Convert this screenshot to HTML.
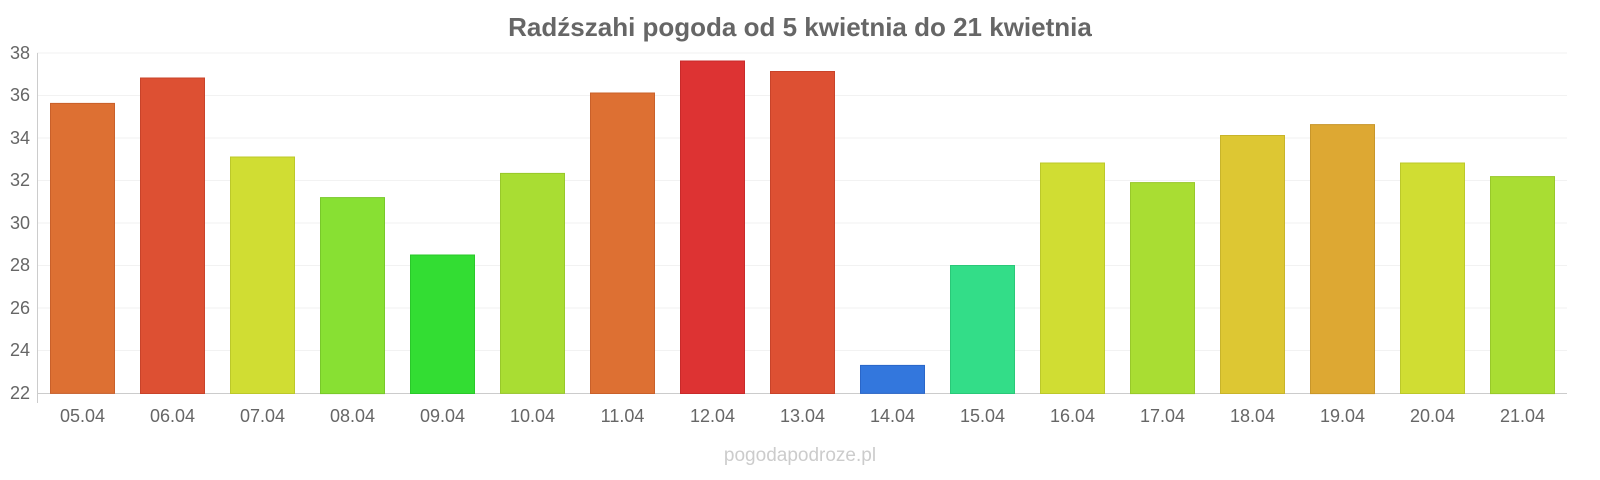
<!DOCTYPE html>
<html><head><meta charset="utf-8"><style>
html,body{margin:0;padding:0;background:#fff;overflow:hidden;width:1600px;height:480px;}
svg{display:block;}
svg text{font-family:"Liberation Sans",sans-serif;}
</style></head><body>
<svg width="1600" height="480" xmlns="http://www.w3.org/2000/svg">
<rect width="1600" height="480" fill="#fff"/>
<text x="800" y="36" text-anchor="middle" font-size="26" font-weight="bold" fill="#666">Radźszahi pogoda od 5 kwietnia do 21 kwietnia</text>
<g stroke="#f2f2f2" stroke-width="1">
<line x1="37" x2="1567" y1="53" y2="53"/><line x1="37" x2="1567" y1="95.5" y2="95.5"/>
<line x1="37" x2="1567" y1="138" y2="138"/><line x1="37" x2="1567" y1="180.5" y2="180.5"/>
<line x1="37" x2="1567" y1="223" y2="223"/><line x1="37" x2="1567" y1="265.5" y2="265.5"/>
<line x1="37" x2="1567" y1="308" y2="308"/><line x1="37" x2="1567" y1="350.5" y2="350.5"/>
</g>
<line x1="37.5" x2="37.5" y1="53" y2="403" stroke="#ccc"/>
<line x1="37" x2="1567" y1="393.5" y2="393.5" stroke="#ccc"/>
<g font-size="18" fill="#666" text-anchor="end">
<text x="30" y="59">38</text><text x="30" y="101">36</text><text x="30" y="144">34</text>
<text x="30" y="186">32</text><text x="30" y="229">30</text><text x="30" y="271">28</text>
<text x="30" y="314">26</text><text x="30" y="356">24</text><text x="30" y="399">22</text>
</g>
<g stroke-width="1">
<rect x="50.5" y="103.4" width="64" height="290" fill="#dd7033" stroke="#c9602a"/>
<rect x="140.5" y="78" width="64" height="315.5" fill="#dd5033" stroke="#c8432a"/>
<rect x="230.5" y="157" width="64" height="236.5" fill="#d0dd33" stroke="#bcc82a"/>
<rect x="320.5" y="197.6" width="64" height="196" fill="#88e033" stroke="#78c82a"/>
<rect x="410.5" y="255" width="64" height="138.5" fill="#33dd33" stroke="#2ac82a"/>
<rect x="500.5" y="173.4" width="64" height="220" fill="#a9dd33" stroke="#98c82a"/>
<rect x="590.5" y="93" width="64" height="300.5" fill="#dd7033" stroke="#c9602a"/>
<rect x="680.5" y="61" width="64" height="332.5" fill="#dd3333" stroke="#c82a2a"/>
<rect x="770.5" y="71.5" width="64" height="322" fill="#dd5033" stroke="#c8432a"/>
<rect x="860.5" y="365.4" width="64" height="28" fill="#3377dd" stroke="#2a66c8"/>
<rect x="950.5" y="265.5" width="64" height="128" fill="#33dd88" stroke="#2ac878"/>
<rect x="1040.5" y="163" width="64" height="230.5" fill="#d0dd33" stroke="#bcc82a"/>
<rect x="1130.5" y="182.6" width="64" height="211" fill="#a9dd33" stroke="#98c82a"/>
<rect x="1220.5" y="135.5" width="64" height="258" fill="#ddc733" stroke="#c8b42a"/>
<rect x="1310.5" y="124.6" width="64" height="269" fill="#dda833" stroke="#c8962a"/>
<rect x="1400.5" y="163" width="64" height="230.5" fill="#d0dd33" stroke="#bcc82a"/>
<rect x="1490.5" y="176.6" width="64" height="217" fill="#a9dd33" stroke="#98c82a"/>
</g>
<g font-size="18" fill="#666" text-anchor="middle">
<text x="82.5" y="422">05.04</text><text x="172.5" y="422">06.04</text><text x="262.5" y="422">07.04</text>
<text x="352.5" y="422">08.04</text><text x="442.5" y="422">09.04</text><text x="532.5" y="422">10.04</text>
<text x="622.5" y="422">11.04</text><text x="712.5" y="422">12.04</text><text x="802.5" y="422">13.04</text>
<text x="892.5" y="422">14.04</text><text x="982.5" y="422">15.04</text><text x="1072.5" y="422">16.04</text>
<text x="1162.5" y="422">17.04</text><text x="1252.5" y="422">18.04</text><text x="1342.5" y="422">19.04</text>
<text x="1432.5" y="422">20.04</text><text x="1522.5" y="422">21.04</text>
</g>
<text x="800" y="461" text-anchor="middle" font-size="19" fill="#ccc">pogodapodroze.pl</text>
</svg>
</body></html>
